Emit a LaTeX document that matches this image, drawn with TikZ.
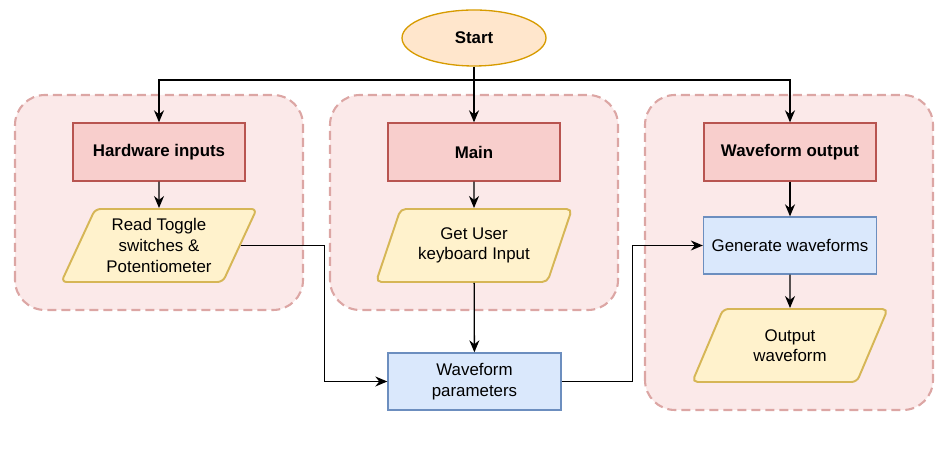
\documentclass[tikz,border=0pt]{standalone}
\usepackage{fontspec}
\setmainfont{Liberation Sans}
\usetikzlibrary{shapes.geometric,arrows.meta}
\definecolor{startfill}{HTML}{FFE6CC}
\definecolor{startline}{HTML}{D79B00}
\definecolor{redfill}{HTML}{F8CECC}
\definecolor{redline}{HTML}{B85450}
\definecolor{yellowfill}{HTML}{FFF2CC}
\definecolor{yellowline}{HTML}{D6B656}
\definecolor{bluefill}{HTML}{DAE8FC}
\definecolor{blueline}{HTML}{6C8EBF}
\definecolor{groupfill}{HTML}{FBE9E9}
\definecolor{groupline}{HTML}{DCA6A4}

\begin{document}
\begin{tikzpicture}[
  font=\fontsize{9.6}{11.7}\selectfont,
  startnode/.style={ellipse,draw=startline,fill=startfill,line width=0.75pt,minimum width=2.88cm,minimum height=1.12cm,inner sep=0pt,font=\fontsize{9.6}{11.7}\selectfont\bfseries},
  block/.style={draw=redline,fill=redfill,line width=0.75pt,minimum width=3.44cm,minimum height=1.16cm,font=\fontsize{9.6}{11.7}\selectfont\bfseries},
  process/.style={draw=blueline,fill=bluefill,line width=0.75pt,minimum width=3.46cm,minimum height=1.14cm,align=center},
  io/.style={trapezium,trapezium left angle=62.5,trapezium right angle=117.5,trapezium stretches=true,draw=yellowline,fill=yellowfill,line width=1.1pt,rounded corners=3pt,minimum width=3.92cm,minimum height=1.46cm,align=center,inner sep=0pt},
  group/.style={draw=groupline,fill=groupfill,line width=1.2pt,dash pattern=on 0.18cm off 0.1cm,rounded corners=0.6cm},
  arr/.style={-{Stealth[length=0.24cm,width=0.2cm]},line width=0.75pt,black}
]
\useasboundingbox (0,0) rectangle (18.94,9.22);

% Draw the group boxes
\filldraw[group] (0.3,3.02) rectangle (6.06,7.32);
\filldraw[group] (6.6,3.02) rectangle (12.36,7.32);
\filldraw[group] (12.9,1.02) rectangle (18.66,7.32);

% Draw the start node
\node[startnode] (start) at (9.48,8.46) {Start};
\coordinate (split) at (9.48,7.62);

% Draw the top row
\node[block] (hw) at (3.18,6.18) {Hardware inputs};
\node[block] (main) at (9.48,6.18) {Main};
\node[block] (wout) at (15.8,6.18) {Waveform output};

% Draw the inputs and outputs
\node[io] (read) at (3.18,4.31) {Read Toggle\\switches \&\\Potentiometer};
\node[io] (getin) at (9.48,4.31) {Get User\\keyboard Input};
\node[io] (outwf) at (15.8,2.31) {Output\\waveform};

% Draw the processes
\node[process] (gen) at (15.8,4.31) {Generate waveforms};
\node[process] (params) at (9.49,1.59) {Waveform\\parameters};

% Arrows from the start
\draw[arr] (start) -- (main);
\draw[arr] (split) -| (hw);
\draw[arr] (split) -| (wout);

% Arrows inside the groups
\draw[arr] (hw) -- (read);
\draw[arr] (main) -- (getin);
\draw[arr] (wout) -- (gen);
\draw[arr] (gen) -- (outwf);

% Arrows to and from the parameters
\draw[arr] (read.east) -- ++(1.68,0) |- (params.west);
\draw[arr] (getin) -- (params);
\draw[arr] (params.east) -- ++(1.42,0) |- (gen.west);

\end{tikzpicture}
\end{document}
